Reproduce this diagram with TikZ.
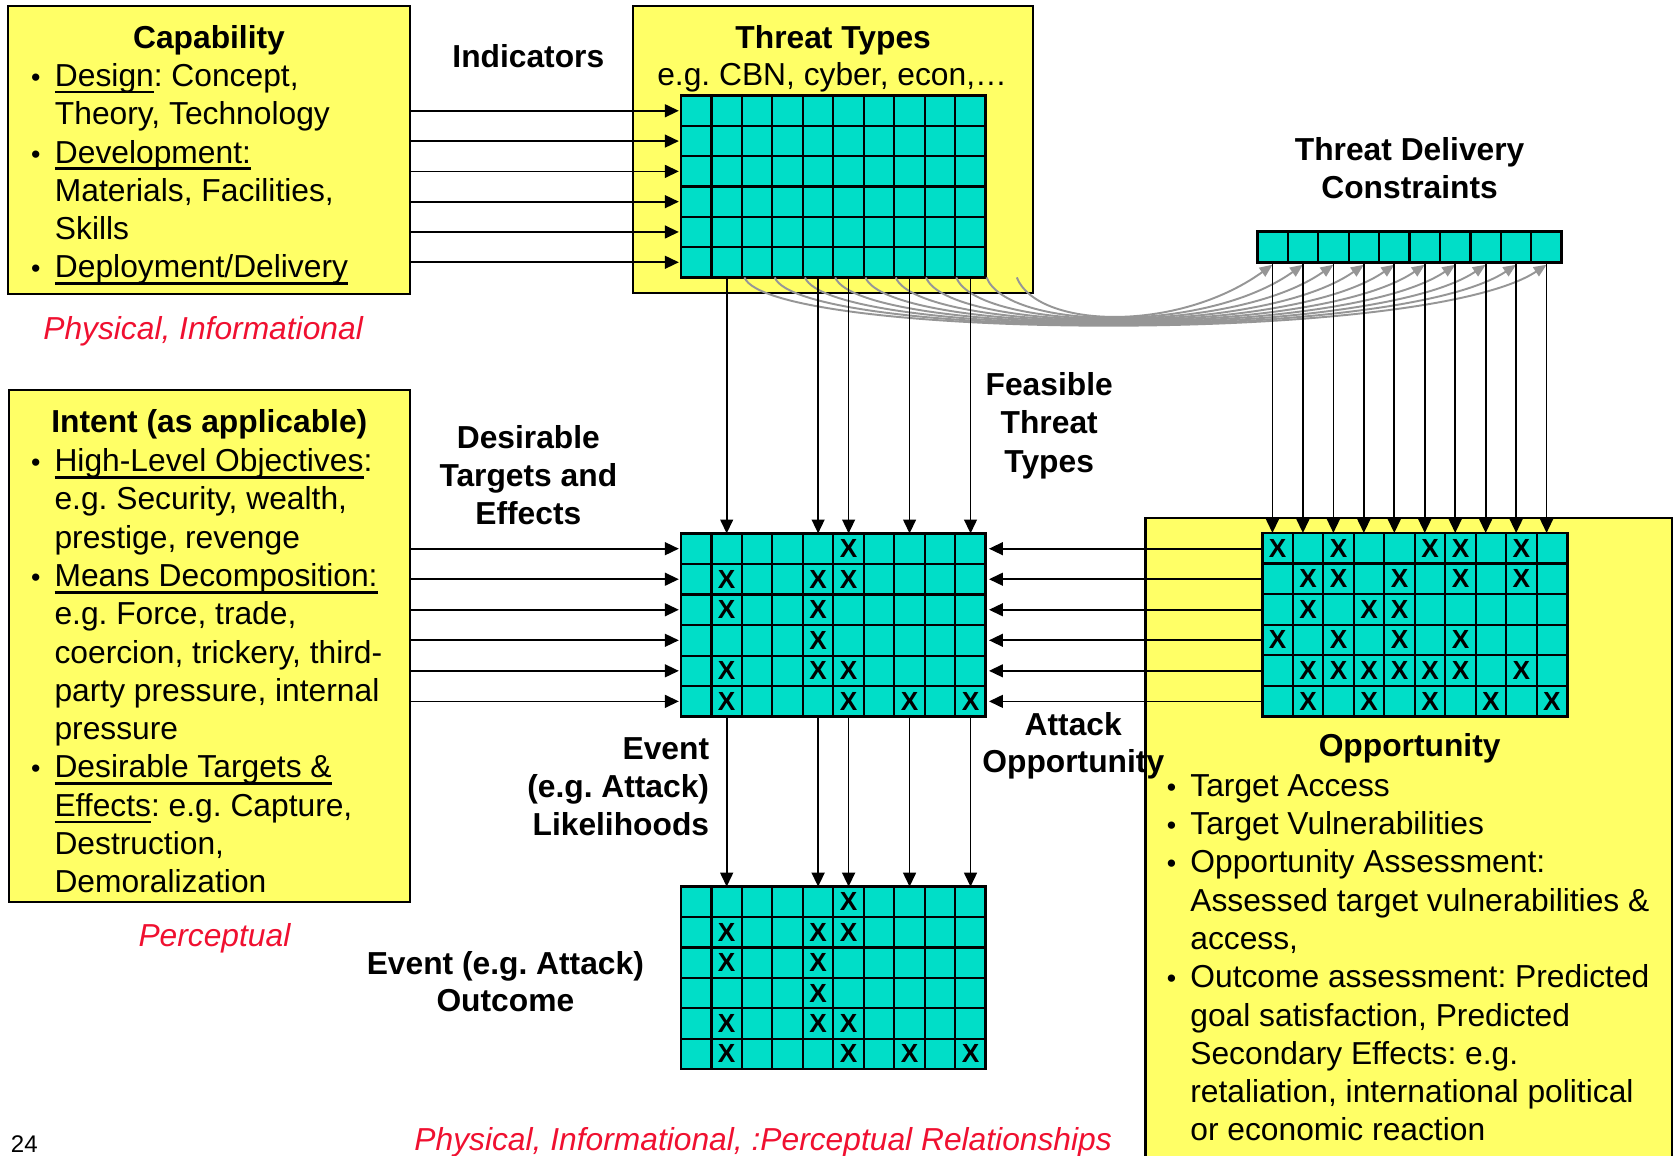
\documentclass[tikz,border=0pt]{standalone}
\usepackage{fontspec}
\setmainfont{Liberation Sans}
\usetikzlibrary{arrows.meta,calc}
\definecolor{boxyellow}{RGB}{255,255,102}
\definecolor{cellteal}{RGB}{0,222,200}
\definecolor{lblred}{RGB}{240,16,48}
\definecolor{curvegray}{RGB}{150,150,150}
\frenchspacing
\newsavebox\ulbox
\newcommand\myul[1]{\sbox\ulbox{#1}\rlap{\rule[-6.6pt]{\wd\ulbox}{2.4pt}}\usebox\ulbox}
\newcommand\cellgrid[3]{%
  \foreach \i in {1,...,#2}{\ifnum\i<#2
    \draw[gline] ($(#1.north west)!{\i/#2}!(#1.north east)$) -- ($(#1.south west)!{\i/#2}!(#1.south east)$);\fi}
  \foreach \i in {1,...,#3}{\ifnum\i<#3
    \draw[gline] ($(#1.north west)!{\i/#3}!(#1.south west)$) -- ($(#1.north east)!{\i/#3}!(#1.south east)$);\fi}
}
\begin{document}
\begin{tikzpicture}[x=1pt,y=-1pt,
  box/.style={draw=black,line width=2pt,fill=boxyellow,inner sep=0pt,outer sep=0pt,anchor=north west},
  gridbox/.style={draw=black,line width=2.6pt,fill=cellteal,inner sep=0pt,outer sep=0pt,minimum width=285pt,minimum height=171pt},
  gline/.style={line width=2pt},
  txt/.style={font=\fontsize{29.7}{35.6}\selectfont,inner sep=0pt,outer sep=0pt},
  hd/.style={font=\fontsize{29.7}{35.6}\selectfont\bfseries,inner sep=0pt,outer sep=0pt},
  redlbl/.style={font=\fontsize{29.7}{35.6}\selectfont\itshape,text=lblred,inner sep=0pt,outer sep=0pt},
  ln/.style={txt,anchor=base west},
  hc/.style={hd,anchor=base},
  bul/.style={font=\fontsize{25}{30}\selectfont,inner sep=0pt,outer sep=0pt,anchor=base},
  xmark/.style={font=\fontsize{24.5}{24.5}\selectfont\bfseries,inner sep=0pt,outer sep=0pt},
  arr/.style={line width=1.6pt,-{Triangle[length=13pt,width=12pt]}},
  garr/.style={draw=curvegray,line width=1.8pt,-{Triangle[length=12pt,width=10pt]}}]
\useasboundingbox (0,0) rectangle (1568,1080);
\clip (0,0) rectangle (1568,1080);
\fill[white] (0,0) rectangle (1568,1080);

% yellow boxes
\node[box,minimum width=375.2pt,minimum height=269.7pt] (cap) at (7.8,5.3) {};
\node[box,minimum width=374pt,minimum height=268.7pt] (ttbox) at (592,5.3) {};
\node[box,minimum width=374.6pt,minimum height=478.3pt] (intent) at (8.4,364.7) {};
\node[box,minimum width=492pt,minimum height=620pt] (opp) at (1071,484.6) {};

% grids
\node[gridbox,minimum height=170pt] (tg) at (779.2,174.4) {};
\node[gridbox,minimum height=171.3pt] (mg) at (779.2,584.4) {};
\node[gridbox,minimum height=170.6pt] (bg) at (779.2,914.3) {};
\node[gridbox,minimum height=171.4pt] (og) at (1322.8,584) {};
\node[gridbox,minimum width=284.8pt,minimum height=28.7pt] (tdc) at (1317.9,231) {};
\cellgrid{tg}{10}{6}
\cellgrid{mg}{10}{6}
\cellgrid{bg}{10}{6}
\cellgrid{og}{10}{6}
\foreach \i in {1,...,9}{\draw[gline] ($(tdc.north west)!{\i/10}!(tdc.north east)$) -- ($(tdc.south west)!{\i/10}!(tdc.south east)$);}

% X marks
\foreach \r/\c in {0/5,1/1,1/4,1/5,2/1,2/4,3/4,4/1,4/4,4/5,5/1,5/5,5/7,5/9}{
  \node[xmark] (mgx\r\c) at ($(mg.north west)+({(\c+0.5)*28.5},{(\r+0.5)*28.55})$) {X};
  \node[xmark] (bgx\r\c) at ($(bg.north west)+({(\c+0.5)*28.5},{(\r+0.5)*28.43})$) {X};
}
\foreach \r/\c in {0/0,0/2,0/5,0/6,0/8,1/1,1/2,1/4,1/6,1/8,2/1,2/3,2/4,3/0,3/2,3/4,3/6,4/1,4/2,4/3,4/4,4/5,4/6,4/8,5/1,5/3,5/5,5/7,5/9}{
  \node[xmark] (ogx\r\c) at ($(og.north west)+({(\c+0.5)*28.5},{(\r+0.5)*28.57})$) {X};
}

% named coordinates
\foreach \r in {0,...,5}{
  \coordinate (tgL\r) at ($(tg.north west)!{(\r+0.5)/6}!(tg.south west)$);
  \coordinate (mgL\r) at ($(mg.north west)!{(\r+0.5)/6}!(mg.south west)$);
  \coordinate (mgR\r) at ($(mg.north east)!{(\r+0.5)/6}!(mg.south east)$);
}
\foreach \j in {0,...,9}{
  \coordinate (tdcB\j) at ($(tdc.south west)!{(\j+0.5)/10}!(tdc.south east)$);
  \coordinate (tdcG\j) at ($(tdcB\j)+(0,2.2)$);
}

% gray curves from threat types to delivery constraints
\foreach \k in {0,...,9}{
  \pgfmathtruncatemacro\m{9-\k}
  \coordinate (cs\k) at ($(tg.south west)+({59.3+28.3*\k},0)$);
  \draw[garr] (cs\k) .. controls ($(cs\k)+({24-5*\k/9},{58-10*\k/9})$) and ($(tdcG\m)+({-116+3*\k},{76-1.333*\k})$) .. (tdcG\m);
}

% black arrows
\foreach \r in {0,...,5}{
  \draw[arr,shorten >=2pt] (cap.east |- tgL\r) -- (tgL\r);
  \draw[arr,shorten >=2pt] (intent.east |- mgL\r) -- (mgL\r);
  \draw[arr,shorten >=3pt] (og.west |- mgR\r) -- (mgR\r);
}
\foreach \c in {1,4,5,7,9}{
  \draw[arr] ($(tg.south west)!{(\c+0.5)/10}!(tg.south east)$) -- ($(mg.north west)!{(\c+0.5)/10}!(mg.north east)$);
  \draw[arr] ($(mg.south west)!{(\c+0.5)/10}!(mg.south east)$) -- ($(bg.north west)!{(\c+0.5)/10}!(bg.north east)$);
}
\foreach \j in {0,...,9}{
  \draw[arr] (tdcB\j) -- (tdcB\j |- og.north);
}

% Capability text
\node[hc] (capT) at (195.4,45) {Capability};
\node[bul] (capb1) at (33.5,80.8) {•};
\node[bul] (capb2) at (33.5,152.4) {•};
\node[bul] (capb3) at (33.5,259.8) {•};
\node[ln] (cap1) at (51.4,80.8) {\myul{Design}: Concept,};
\node[ln] (cap2) at (51.4,116.6) {Theory, Technology};
\node[ln] (cap3) at (51.4,152.4) {\myul{Development:}};
\node[ln] (cap4) at (51.4,188.2) {Materials, Facilities,};
\node[ln] (cap5) at (51.4,224) {Skills};
\node[ln] (cap6) at (51.4,259.8) {\myul{Deployment/Delivery}};
\node[redlbl,anchor=base west] (capR) at (40.5,317.5) {Physical, Informational};

% Threat types text
\node[hc] (indic) at (494,63) {Indicators};
\node[hc] (ttT) at (779,45) {Threat Types};
\node[txt,anchor=base] (tt1) at (778,79.5) {e.g. CBN, cyber, econ,…};
\node[hc] (tdcT1) at (1318,150.5) {Threat Delivery};
\node[hc] (tdcT2) at (1318,186) {Constraints};

% Intent text
\node[hc] (intT) at (195.7,404.6) {Intent (as applicable)};
\node[bul] (intb1) at (33.5,441) {•};
\node[bul] (intb2) at (33.5,548.4) {•};
\node[bul] (intb3) at (33.5,727.4) {•};
\node[ln] (int1) at (51,441) {\myul{High-Level Objectives}:};
\node[ln] (int2) at (51,476.8) {e.g. Security, wealth,};
\node[ln] (int3) at (51,512.6) {prestige, revenge};
\node[ln] (int4) at (51,548.4) {\myul{Means Decomposition:}};
\node[ln] (int5) at (51,584.2) {e.g. Force, trade,};
\node[ln] (int6) at (51,620) {coercion, trickery, third-};
\node[ln] (int7) at (51,655.8) {party pressure, internal};
\node[ln] (int8) at (51,691.6) {pressure};
\node[ln] (int9) at (51,727.4) {\myul{Desirable Targets \&}};
\node[ln] (int10) at (51,763.2) {\myul{Effects}: e.g. Capture,};
\node[ln] (int11) at (51,799) {Destruction,};
\node[ln] (int12) at (51,834.8) {Demoralization};
\node[redlbl,anchor=base] (intR) at (200.5,884.5) {Perceptual};

% middle labels
\node[hc] (dte1) at (494,419.5) {Desirable};
\node[hc] (dte2) at (494,455) {Targets and};
\node[hc] (dte3) at (494,490.5) {Effects};
\node[hc] (ftt1) at (981,369.5) {Feasible};
\node[hc] (ftt2) at (981,405.5) {Threat};
\node[hc] (ftt3) at (981,441.5) {Types};
\node[hd,anchor=base east] (evl1) at (663,710) {Event};
\node[hd,anchor=base east] (evl2) at (663,746) {(e.g. Attack)};
\node[hd,anchor=base east] (evl3) at (663,781) {Likelihoods};
\node[hc] (ao1) at (1003.5,688) {Attack};
\node[hc] (ao2) at (1003.5,722.5) {Opportunity};
\node[hc] (evo1) at (472.5,911) {Event (e.g. Attack)};
\node[hc] (evo2) at (472.5,946) {Outcome};

% Opportunity text
\node[hc] (oppT) at (1318,707.5) {Opportunity};
\node[bul] (oppb1) at (1095.5,744.5) {•};
\node[bul] (oppb2) at (1095.5,780.3) {•};
\node[bul] (oppb3) at (1095.5,816.1) {•};
\node[bul] (oppb4) at (1095.5,923.5) {•};
\node[ln] (opp1) at (1113,744.5) {Target Access};
\node[ln] (opp2) at (1113,780.3) {Target Vulnerabilities};
\node[ln] (opp3) at (1113,816.1) {Opportunity Assessment:};
\node[ln] (opp4) at (1113,851.9) {Assessed target vulnerabilities \&};
\node[ln] (opp5) at (1113,887.7) {access,};
\node[ln] (opp6) at (1113,923.5) {Outcome assessment: Predicted};
\node[ln] (opp7) at (1113,959.3) {goal satisfaction, Predicted};
\node[ln] (opp8) at (1113,995.1) {Secondary Effects: e.g.};
\node[ln] (opp9) at (1113,1030.9) {retaliation, international political};
\node[ln] (opp10) at (1113,1066.7) {or economic reaction};

% footer
\node[font=\fontsize{22.5}{27}\selectfont,inner sep=0pt,anchor=base west] (pgno) at (10,1078) {24};
\node[redlbl,anchor=base west] (footR) at (387.5,1076) {Physical, Informational, :Perceptual Relationships};
\end{tikzpicture}
\end{document}
